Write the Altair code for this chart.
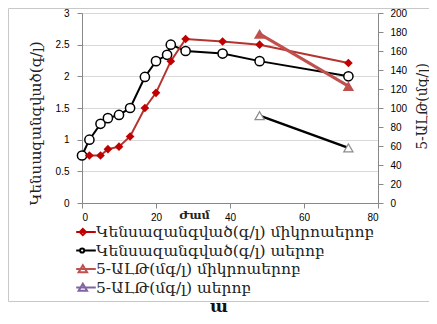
import altair as alt
import pandas as pd

# ---- data ----
hours_micro = [2, 5, 7, 10, 13, 17, 20, 24, 28, 38, 48, 72]
biomass_micro = [0.75, 0.75, 0.85, 0.89, 1.05, 1.50, 1.74, 2.24, 2.59, 2.55, 2.50, 2.21]
hours_aer = [0, 2, 5, 7, 10, 13, 17, 20, 23, 24, 28, 38, 48, 72]
biomass_aer = [0.75, 1.0, 1.25, 1.34, 1.39, 1.50, 1.99, 2.24, 2.34, 2.50, 2.40, 2.36, 2.24, 2.00]
ala_hours = [48, 72]
ala_micro = [178, 123]
ala_aer = [92, 58]

series_names = [
    "Կենսազանգված(գ/լ) միկրոաերոբ",
    "Կենսազանգված(գ/լ) աերոբ",
    "5-ԱԼԹ(մգ/լ) միկրոաերոբ",
    "5-ԱԼԹ(մգ/լ) աերոբ",
]
x_ticks = [0, 20, 40, 60, 80]
left_ticks = [0, 0.5, 1, 1.5, 2, 2.5, 3]
right_ticks = [0, 20, 40, 60, 80, 100, 120, 140, 160, 180, 200]
x_title = "Ժամ"
left_title = "Կենսազանգված(գ/լ)"
right_title = "5-ԱԼԹ(մգ/լ)"
caption = "ա"

df_bm = pd.DataFrame({"hour": hours_micro, "value": biomass_micro})
df_ba = pd.DataFrame({"hour": hours_aer, "value": biomass_aer})
df_am = pd.DataFrame({"hour": ala_hours, "value": ala_micro})
df_aa = pd.DataFrame({"hour": ala_hours, "value": ala_aer})
df_leg = pd.DataFrame({"series": series_names})

ARM = "DejaVu Serif"
LAT = "Liberation Sans"

X = alt.X("hour:Q", scale=alt.Scale(domain=[0, 80], nice=False),
          axis=alt.Axis(values=x_ticks, grid=False, title=x_title, titleX=112, titleY=12,
                        titleBaseline="middle", titleFont=ARM, titleFontSize=11.5,
                        titleFontWeight="bold", titleColor="#222", labelPadding=4))
YL = alt.Y("value:Q", scale=alt.Scale(domain=[0, 3], nice=False),
           axis=alt.Axis(values=left_ticks, format="~g", grid=True, gridColor="#D9D9D9",
                         title=left_title, titleX=-47, titleY=110, titleAngle=270,
                         titleAlign="center", titleBaseline="middle", titleFont=ARM,
                         titleFontSize=15, titleFontWeight="normal", titleColor="#222",
                         labelPadding=8))
YR = alt.Y("value:Q", scale=alt.Scale(domain=[0, 200], nice=False),
           axis=alt.Axis(values=right_ticks, grid=False, orient="right", title=right_title,
                         titleX=44, titleY=93, titleAngle=270, titleAlign="center",
                         titleBaseline="middle", titleFont=ARM, titleFontSize=14,
                         titleFontWeight="normal", titleColor="#222", labelPadding=7))

line_bm = alt.Chart(df_bm).mark_line(color="#B5332E", strokeWidth=2).encode(x=X, y=YL)
pts_bm = alt.Chart(df_bm).mark_point(shape="diamond", filled=True, color="#C00000",
                                     size=75, opacity=1).encode(x=X, y=YL)
line_ba = alt.Chart(df_ba).mark_line(color="black", strokeWidth=2).encode(x=X, y=YL)
pts_ba = alt.Chart(df_ba).mark_point(shape="circle", fill="white", stroke="black",
                                     strokeWidth=1.5, size=85, opacity=1).encode(x=X, y=YL)

leg_paths = [
    "M-1.4,0L1.4,0M-0.45,-0.45L0,0L-0.45,0.45L-0.9,0Z",
    "M-1.4,0L-0.85,0M-0.25,0A0.3,0.3 0 1,1 -0.85,0A0.3,0.3 0 1,1 -0.25,0Z M-0.25,0L1.4,0",
    "M-1.4,0L1.4,0M-0.45,-0.55L0.15,0.45L-1.05,0.45Z",
    "M-1.4,0L1.4,0M-0.45,-0.55L0.15,0.45L-1.05,0.45Z",
]
leg_fill = ["#C00000", "white", "#C0504D", "white"]
leg_stroke = ["#C00000", "black", "#C0504D", "#8064A2"]

LEG = alt.Legend(title=None, orient="none", legendX=-4, legendY=211, padding=0,
                 labelFont=ARM, labelFontSize=15.5, labelColor="#222", labelOffset=2,
                 symbolSize=196, symbolStrokeWidth=2, rowPadding=1.5, labelLimit=400)

legend_layer = alt.Chart(df_leg).mark_point(opacity=0, size=196, strokeWidth=2).encode(
    shape=alt.Shape("series:N", scale=alt.Scale(domain=series_names, range=leg_paths),
                    legend=LEG),
    fill=alt.Fill("series:N", scale=alt.Scale(domain=series_names, range=leg_fill),
                  legend=LEG),
    stroke=alt.Stroke("series:N", scale=alt.Scale(domain=series_names, range=leg_stroke),
                      legend=LEG),
)

frame = alt.Chart(pd.DataFrame({"a": [0]})).mark_rect(
    fill="transparent", stroke="#C8C8C8", strokeWidth=1).encode(
    x=alt.value(-73.5), x2=alt.value(349.5), y=alt.value(-4.5), y2=alt.value(288.5))

cap = alt.Chart(pd.DataFrame({"t": [caption]})).mark_text(
    font=ARM, fontSize=17, fontWeight="bold", color="#111", baseline="middle").encode(
    text="t:N", x=alt.value(137), y=alt.value(294))

left = alt.layer(frame, line_ba, line_bm, pts_ba, pts_bm, cap)

line_am = alt.Chart(df_am).mark_line(color="#C0504D", strokeWidth=3).encode(x=X, y=YR)
pts_am = alt.Chart(df_am).mark_point(shape="triangle-up", filled=True, color="#C0504D",
                                     size=130, opacity=1).encode(x=X, y=YR)
line_aa = alt.Chart(df_aa).mark_line(color="black", strokeWidth=2.5).encode(x=X, y=YR)
pts_aa = alt.Chart(df_aa).mark_point(shape="triangle-up", fill="white", stroke="#8C8C8C",
                                     strokeWidth=1.2, size=85, opacity=1).encode(x=X, y=YR)
right = alt.layer(line_aa, line_am, pts_aa, pts_am)

chart = alt.layer(left, right, legend_layer).resolve_scale(y="independent").properties(
    width=296, height=190,
    autosize=alt.AutoSizeParams(type="none"),
    padding={"left": 74, "top": 5, "right": 51, "bottom": 113},
).configure_view(stroke=None).configure_axis(
    labelFont=LAT, labelFontSize=11.5, labelColor="#595959",
    domainColor="#A6A6A6", tickColor="#A6A6A6", tickSize=5,
).configure(background="white")

chart.save("out.html", embed_options={"renderer": "svg", "actions": False})
